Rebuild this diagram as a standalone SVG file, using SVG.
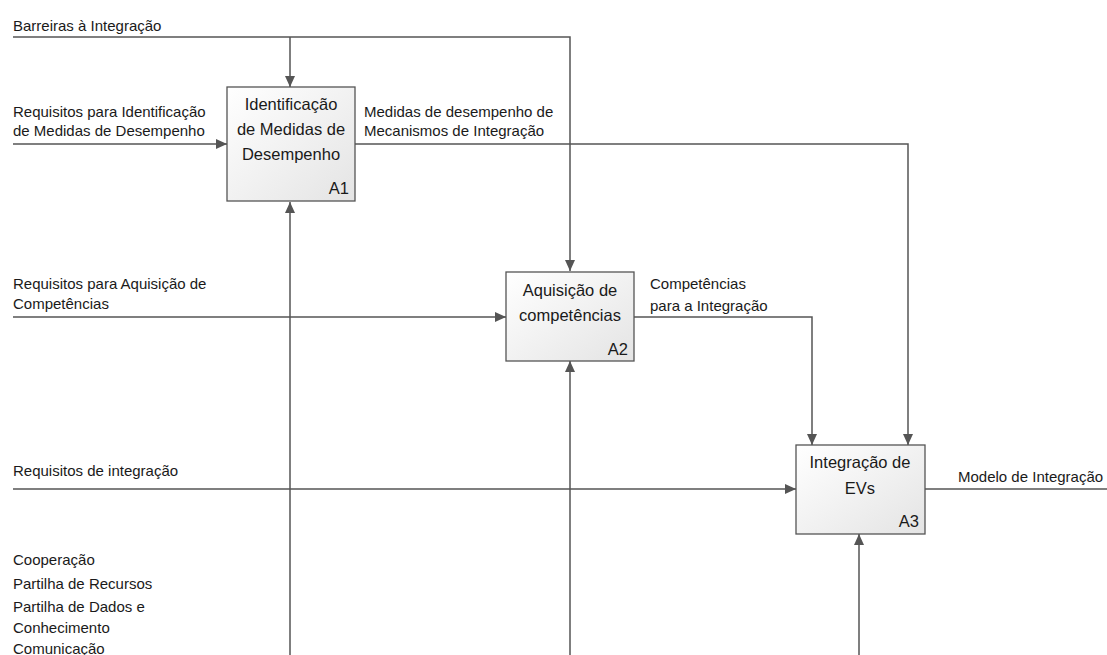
<svg xmlns="http://www.w3.org/2000/svg" width="1107" height="655" viewBox="0 0 1107 655">
<style>
.ln{fill:none;stroke:#555;stroke-width:1.5}
.box{fill:url(#g);stroke:#555;stroke-width:1.3}
.lbl{font-family:"Liberation Sans",Arial,sans-serif;font-size:15px;fill:#1a1a1a}
.bt{font-family:"Liberation Sans",Arial,sans-serif;font-size:16.5px;fill:#1a1a1a;text-anchor:middle}
.id{font-family:"Liberation Sans",Arial,sans-serif;font-size:16.5px;fill:#1a1a1a;text-anchor:end}
</style>
<defs>
<linearGradient id="g" x1="0" y1="0" x2="1" y2="1">
<stop offset="0" stop-color="#ffffff"/>
<stop offset="1" stop-color="#e4e4e4"/>
</linearGradient>
<marker id="ah" markerWidth="11" markerHeight="10" refX="11" refY="5" orient="auto" markerUnits="userSpaceOnUse">
<path d="M0,0 L11,5 L0,10 Z" fill="#555"/>
</marker>
</defs>
<rect width="1107" height="655" fill="#fff"/>
<g id="connectors">
<path class="ln" d="M13,37 H570 V271" marker-end="url(#ah)"/>
<path class="ln" d="M290,37 V87" marker-end="url(#ah)"/>
<path class="ln" d="M13,144 H227" marker-end="url(#ah)"/>
<path class="ln" d="M355,144 H908 V445" marker-end="url(#ah)"/>
<path class="ln" d="M290,655 V202" marker-end="url(#ah)"/>
<path class="ln" d="M13,317 H506" marker-end="url(#ah)"/>
<path class="ln" d="M634,317 H812 V445" marker-end="url(#ah)"/>
<path class="ln" d="M570,655 V361" marker-end="url(#ah)"/>
<path class="ln" d="M13,489 H796" marker-end="url(#ah)"/>
<path class="ln" d="M925,489 H1107"/>
<path class="ln" d="M859,655 V534" marker-end="url(#ah)"/>
<text class="lbl" x="13" y="31">Barreiras à Integração</text>
<text class="lbl" x="13" y="117">Requisitos para Identificação</text>
<text class="lbl" x="13" y="136">de Medidas de Desempenho</text>
<text class="lbl" x="364" y="117">Medidas de desempenho de</text>
<text class="lbl" x="364" y="136">Mecanismos de Integração</text>
<text class="lbl" x="13" y="289">Requisitos para Aquisição de</text>
<text class="lbl" x="13" y="309">Competências</text>
<text class="lbl" x="650" y="289">Competências</text>
<text class="lbl" x="650" y="311">para a Integração</text>
<text class="lbl" x="13" y="476">Requisitos de integração</text>
<text class="lbl" x="958" y="482">Modelo de Integração</text>
<text class="lbl" x="13" y="565">Cooperação</text>
<text class="lbl" x="13" y="589">Partilha de Recursos</text>
<text class="lbl" x="13" y="612">Partilha de Dados e</text>
<text class="lbl" x="13" y="633">Conhecimento</text>
<text class="lbl" x="13" y="654">Comunicação</text>
</g>
<g id="A1">
<rect class="box" x="227" y="87" width="128" height="114"/>
<text class="bt" x="291" y="110">Identificação</text>
<text class="bt" x="291" y="135">de Medidas de</text>
<text class="bt" x="291" y="160">Desempenho</text>
<text class="id" x="349" y="194">A1</text>
</g>
<g id="A2">
<rect class="box" x="506" y="272" width="128" height="89"/>
<text class="bt" x="570" y="296">Aquisição de</text>
<text class="bt" x="570" y="321">competências</text>
<text class="id" x="628" y="355">A2</text>
</g>
<g id="A3">
<rect class="box" x="796" y="445" width="129" height="89"/>
<text class="bt" x="860" y="468">Integração de</text>
<text class="bt" x="860" y="494">EVs</text>
<text class="id" x="919" y="527">A3</text>
</g>
</svg>
